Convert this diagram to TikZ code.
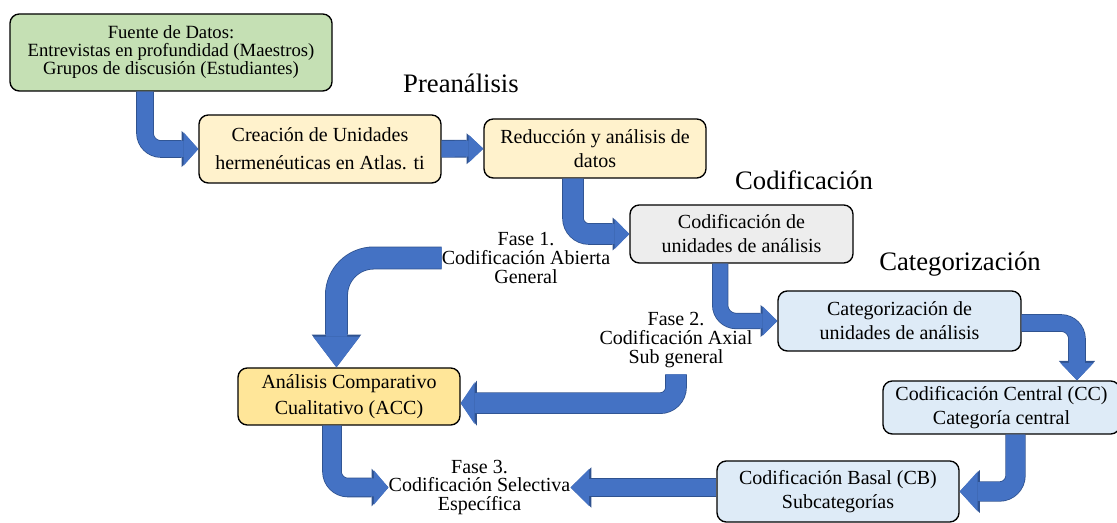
\documentclass[tikz,border=0pt]{standalone}
\usepackage{fontspec}
\setmainfont{Liberation Serif}
\usetikzlibrary{arrows.meta}
\usetikzlibrary{calc}

\definecolor{verdeFuente}{HTML}{C5E0B4}
\definecolor{amarilloClaro}{HTML}{FFF2CC}
\definecolor{grisClaro}{HTML}{EDEDED}
\definecolor{azulClaro}{HTML}{DEEBF7}
\definecolor{oroClaro}{HTML}{FFE699}
\definecolor{flujo}{HTML}{4472C4}
\definecolor{flujoBorde}{HTML}{2F528F}

\begin{document}
\begin{tikzpicture}[x=0.75pt, y=-0.75pt,
  caja/.style={draw=black, line width=1pt, rounded corners=7pt, align=center,
    inner sep=0pt, font=\fontsize{15}{18}\selectfont},
  fase/.style={align=center, inner sep=0pt, font=\fontsize{15}{14}\selectfont},
  etapa/.style={inner sep=0pt, font=\fontsize{20}{24}\selectfont},
  flecha/.style n args={3}{
    preaction={draw=flujoBorde, line width=#1+1.2pt,
      -{Triangle[width=#2+2.2pt, length=#3+1.6pt, line width=0pt]}},
    draw=flujo, line width=#1, rounded corners=12pt,
    -{Triangle[width=#2, length=#3, line width=0pt]}}]

  \useasboundingbox (0,0) rectangle (1117,523);

  % cajas
  \node[caja, fill=verdeFuente, minimum width=241.5pt, minimum height=57.75pt,
    font=\fontsize{14}{13.5}\selectfont] (fuente) at (171,52.5)
    {Fuente de Datos:\\Entrevistas en profundidad (Maestros)\\Grupos de discusión (Estudiantes)};
  \node[caja, fill=amarilloClaro, minimum width=181.5pt, minimum height=51pt,
    font=\fontsize{15}{21}\selectfont] (crea) at (320,149)
    {Creación de Unidades\\hermenéuticas en Atlas. ti};
  \node[caja, fill=amarilloClaro, minimum width=166.5pt, minimum height=44.25pt] (redu) at (595,148.5)
    {Reducción y análisis de\\datos};
  \node[caja, fill=grisClaro, minimum width=167.25pt, minimum height=43.5pt] (codi) at (741.5,234)
    {Codificación de\\unidades de análisis};
  \node[caja, fill=azulClaro, minimum width=182.25pt, minimum height=45pt] (cate) at (899.5,321)
    {Categorización de\\unidades de análisis};
  \node[caja, fill=azulClaro, minimum width=177.75pt, minimum height=39.75pt] (cent) at (1001.5,407.5)
    {Codificación Central (CC)\\Categoría central};
  \node[caja, fill=azulClaro, minimum width=181.5pt, minimum height=45.75pt] (basa) at (838,491.5)
    {Codificación Basal (CB)\\Subcategorías};
  \node[caja, fill=oroClaro, minimum width=166.5pt, minimum height=42.75pt,
    font=\fontsize{15}{19.5}\selectfont] (acc) at (349,396.5)
    {Análisis Comparativo\\Cualitativo (ACC)};

  % etapas y fases
  \node[etapa] (pre) at (461,83) {Preanálisis};
  \node[etapa] (cod) at (804,180) {Codificación};
  \node[etapa] (cat) at (960,264) {Categorización};
  \node[fase] (f1) at (526,258) {Fase 1.\\Codificación Abierta\\General};
  \node[fase] (f2) at (676,340) {Fase 2.\\Codificación Axial\\Sub general};
  \node[fase] (f3) at (479.5,487.5) {Fase 3.\\Codificación Selectiva\\Específica};

  % flechas
  \draw[flecha={12pt}{25pt}{11pt}] ([xshift=-19.5pt]fuente.south) |- (crea.west);
  \draw[flecha={12pt}{21pt}{11pt}] (crea) -- (redu);
  \draw[flecha={15pt}{22.5pt}{11pt}] ([xshift=-16.5pt]redu.south) |- (codi.west);
  \draw[flecha={11pt}{22pt}{11pt}] ([xshift=-16pt]codi.south) |- (cate.west);
  \draw[flecha={16pt}{35pt}{23pt}, rounded corners=28pt] (f1.west) -| ([xshift=-9.4pt]acc.north);
  \draw[flecha={15pt}{31.5pt}{10.5pt}] ([yshift=-5pt]f2.south) |- ([yshift=-5pt]acc.east);
  \draw[flecha={13.5pt}{26pt}{11pt}] ([xshift=-12.75pt]acc.south) |- (f3.west);
  \draw[flecha={13pt}{28pt}{14pt}] (basa.west |- f3.east) -- (f3.east);
  \draw[flecha={12pt}{25pt}{13pt}] ([yshift=-1.5pt]cate.east) -| ([xshift=56.6pt]cent.north);
  \draw[flecha={14pt}{30pt}{13.5pt}] ([xshift=10.5pt]cent.south) |- (basa.east);
\end{tikzpicture}
\end{document}
